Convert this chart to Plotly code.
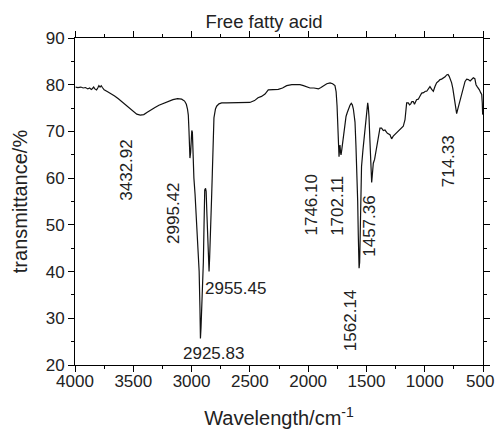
import plotly.graph_objects as go

wavenumber = [3995, 3975, 3950, 3930, 3910, 3890, 3875, 3860, 3850, 3840, 3830, 3815, 3805, 3795, 3785, 3775, 3765, 3750,
              3720, 3690, 3660, 3628, 3590, 3550, 3510, 3470, 3440, 3410, 3380, 3345, 3314, 3280, 3240, 3200, 3160, 3120,
              3085, 3060, 3045, 3035, 3028, 3022, 3018, 3014, 3008, 3003, 2998, 2993, 2988, 2980, 2970, 2960, 2950, 2942,
              2935, 2928, 2924, 2919, 2913, 2905, 2899, 2893, 2887, 2880, 2875, 2868, 2862, 2856, 2850, 2845, 2836, 2828,
              2822, 2815, 2808, 2795, 2785, 2765, 2742, 2700, 2650, 2600, 2550, 2500, 2460, 2430, 2400, 2370, 2342, 2300,
              2256, 2220, 2184, 2140, 2100, 2070, 2040, 2010, 1984, 1950, 1912, 1890, 1870, 1840, 1812, 1790, 1770, 1760,
              1752, 1745, 1738, 1735, 1730, 1727, 1722, 1718, 1712, 1705, 1698, 1690, 1682, 1675, 1665, 1655, 1641, 1630,
              1621, 1612, 1605, 1598, 1590, 1583, 1575, 1570, 1566, 1563, 1558, 1552, 1546, 1542, 1530, 1520, 1512, 1502,
              1494, 1489, 1484, 1478, 1470, 1463, 1458, 1455, 1450, 1445, 1441, 1430, 1420, 1412, 1398, 1384, 1370, 1355,
              1341, 1320, 1298, 1284, 1270, 1250, 1227, 1205, 1184, 1169, 1160, 1155, 1141, 1130, 1120, 1110, 1098, 1088,
              1070, 1055, 1040, 1026, 1010, 995, 983, 970, 955, 940, 926, 912, 898, 880, 869, 855, 840, 825, 812, 800,
              790, 780, 769, 759, 749, 740, 733, 726, 718, 708, 697, 683, 668, 654, 640, 626, 610, 595, 583, 570, 560,
              550, 540, 531, 520, 511, 506, 503]
transmittance = [79.5, 79.4, 79.5, 79.3, 79.4, 79.1, 79.3, 79.0, 79.2, 79.5, 79.1, 78.9, 79.3, 79.8, 79.5, 79.8, 79.4, 78.9,
                 78.5, 78.1, 77.6, 77.0, 76.2, 75.3, 74.4, 73.7, 73.5, 73.6, 74.1, 74.7, 75.1, 75.6, 76.0, 76.3, 76.8, 77.0,
                 76.9, 76.5, 75.8, 74.8, 73.5, 70.0, 66.0, 64.3, 65.5, 69.0, 70.2, 69.8, 64.0, 60.0, 56.5, 52.0, 48.0, 46.0,
                 40.0, 32.0, 25.7, 28.0, 32.0, 38.0, 42.0, 50.0, 57.5, 57.8, 57.2, 52.0, 46.0, 41.0, 40.0, 43.0, 48.0, 56.0,
                 61.0, 67.0, 72.9, 74.8, 75.4, 75.9, 76.1, 76.1, 76.1, 76.1, 76.1, 76.2, 76.6, 77.2, 77.5, 78.0, 78.9, 79.0,
                 79.0, 79.3, 79.8, 80.0, 80.0, 80.0, 79.8, 79.6, 79.3, 79.3, 79.1, 79.4, 79.7, 80.2, 80.4, 80.2, 79.8, 78.5,
                 75.5, 70.0, 65.5, 64.6, 66.5, 67.1, 65.5, 65.0, 66.0, 67.5, 68.2, 70.5, 72.5, 73.2, 74.0, 74.8, 75.6, 76.0,
                 75.7, 74.8, 73.5, 72.0, 67.0, 62.5, 55.0, 48.0, 42.0, 40.7, 42.0, 50.0, 58.0, 62.5, 66.0, 68.5, 69.6, 72.5,
                 75.5, 76.1, 75.2, 73.2, 68.0, 62.5, 59.5, 59.1, 60.5, 62.8, 63.2, 64.0, 65.5, 66.8, 68.9, 70.7, 70.7, 70.2,
                 70.3, 69.6, 69.3, 68.4, 69.0, 69.5, 70.0, 70.6, 71.1, 72.5, 75.0, 76.1, 76.1, 75.7, 75.9, 76.4, 76.4, 75.8,
                 76.8, 76.9, 77.6, 78.2, 78.3, 78.6, 78.6, 79.2, 79.6, 79.0, 78.6, 79.6, 80.4, 80.8, 81.1, 81.2, 81.4, 81.7,
                 82.1, 82.2, 81.8, 81.3, 80.4, 79.2, 77.5, 75.3, 74.3, 73.8, 74.6, 75.6, 76.8, 78.2, 79.8, 80.7, 81.2, 81.1,
                 80.8, 81.1, 81.5, 81.3, 80.0, 79.6, 79.3, 78.9, 78.3, 77.9, 76.0, 73.6]

peak_labels = ["3432.92", "2995.42", "2955.45", "2925.83", "1746.10", "1702.11", "1457.36", "1562.14", "714.33"]
label_x = [3554, 3157, 2619, 2816, 1969, 1755, 1469, 1641, 797]
label_y = [61.8, 52.4, 36.4, 22.5, 54.3, 54.0, 49.6, 29.6, 63.7]
label_angle = [-90, -90, 0, 0, -90, -90, -90, -90, -90]

x_ticks = [4000, 3500, 3000, 2500, 2000, 1500, 1000, 500]
y_ticks = [20, 30, 40, 50, 60, 70, 80, 90]

FONT = "Liberation Sans, Arial, Helvetica, sans-serif"

fig = go.Figure()
fig.add_trace(go.Scatter(x=wavenumber, y=transmittance, mode="lines",
                         line=dict(color="#111111", width=1.2), showlegend=False))

for t, x, y, a in zip(peak_labels, label_x, label_y, label_angle):
    fig.add_annotation(x=x, y=y, text=t, textangle=a, showarrow=False,
                       xanchor="center", yanchor="middle",
                       font=dict(family=FONT, size=17, color="#222222"))

# last x tick label drawn as annotation so it stays inside the page (as in the reference)
x_tick_text = [str(v) for v in x_ticks[:-1]] + [""]
fig.add_annotation(x=x_ticks[-1], xref="x", y=0, yref="paper", text=str(x_ticks[-1]),
                   showarrow=False, xanchor="center", yanchor="middle", xshift=-3, yshift=-16,
                   font=dict(family=FONT, size=17, color="#222222"))

axis_common = dict(showline=True, linecolor="black", linewidth=1, mirror="ticks",
                   ticks="outside", ticklen=6, tickcolor="black", tickwidth=1,
                   showgrid=False, zeroline=False, automargin=False,
                   tickfont=dict(family=FONT, size=17, color="#222222"))

fig.update_xaxes(range=[4000, 500], tickvals=x_ticks, ticktext=x_tick_text,
                 ticklabelstandoff=-5,
                 minor=dict(dtick=250, ticks="outside", ticklen=3, tickcolor="black", showgrid=False),
                 title=dict(text="Wavelength/cm<sup>-1</sup>", font=dict(family=FONT, size=20, color="#222222"),
                            standoff=40),
                 **axis_common)
fig.update_yaxes(range=[20, 90], tickvals=y_ticks, ticktext=[str(v) for v in y_ticks],
                 minor=dict(dtick=5, ticks="outside", ticklen=3, tickcolor="black", showgrid=False),
                 title=dict(text="transmittance/%", font=dict(family=FONT, size=20, color="#222222"),
                            standoff=12),
                 **axis_common)

fig.update_layout(
    width=496, height=429,
    margin=dict(l=75, r=13, t=38, b=64),
    paper_bgcolor="white", plot_bgcolor="white",
    title=dict(text="Free fatty acid", x=264 / 496, xanchor="center", xref="container",
               y=1 - 22 / 429, yanchor="middle", yref="container",
               font=dict(family=FONT, size=18.5, color="#222222")),
)

fig.write_html("out.html")
